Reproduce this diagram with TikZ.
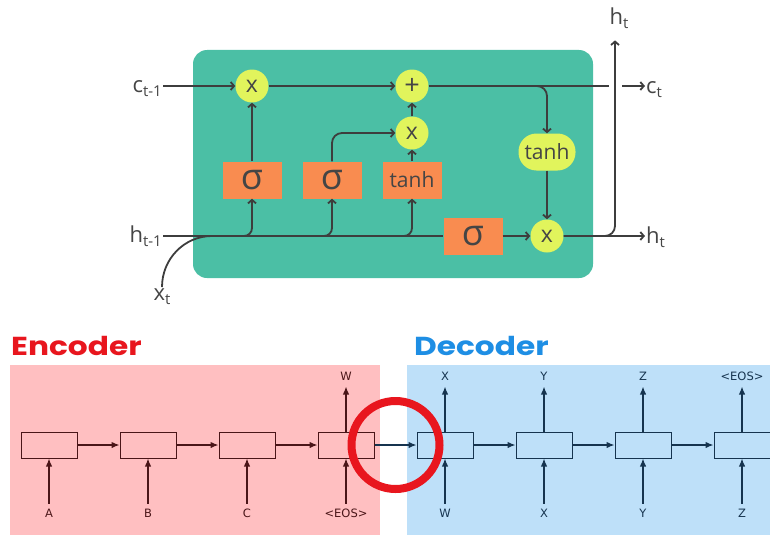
\documentclass[tikz,border=0pt]{standalone}
\usepackage{fontspec}
\setmainfont{Open Sans}
\newfontfamily\labelfont{DejaVu Sans}
\newfontfamily\titlefont{Poppins}[FakeStretch=1.2]
\usepackage{tikz}
\usetikzlibrary{positioning,arrows.meta,calc}
\definecolor{cellteal}{HTML}{4BBFA5}
\definecolor{ptyellow}{HTML}{E1F45C}
\definecolor{gateorange}{HTML}{F98C50}
\definecolor{wire}{HTML}{3D3D3D}
\definecolor{inkgray}{HTML}{454545}
\definecolor{encbg}{HTML}{FFBFC1}
\definecolor{decbg}{HTML}{BEE0F9}
\definecolor{encink}{HTML}{4A1518}
\definecolor{decink}{HTML}{16344F}
\definecolor{encred}{HTML}{E8161E}
\definecolor{decblue}{HTML}{1E8EE4}
\newcommand{\lsub}[1]{\raisebox{-4pt}{\fontsize{15}{15}\selectfont #1}}
\tikzset{
  cellbox/.style={rectangle,rounded corners=14pt,fill=cellteal,
    minimum width=400pt,minimum height=228pt},
  pt/.style={circle,fill=ptyellow,minimum size=33pt,inner sep=0pt,
    text=inkgray,font=\fontsize{23}{23}\selectfont},
  gatebox/.style={rectangle,fill=gateorange,minimum width=59pt,
    minimum height=37pt,inner sep=0pt,text=inkgray,
    font=\fontsize{36}{36}\selectfont},
  actbox/.style={rectangle,rounded corners=18pt,fill=ptyellow,
    minimum width=57pt,minimum height=37pt,inner sep=0pt,text=inkgray,
    font=\fontsize{21}{21}\selectfont},
  io/.style={inner sep=1pt,text=inkgray,font=\fontsize{22}{22}\selectfont},
  line/.style={line width=1.8pt,draw=wire},
  ar/.style={line,-{Straight Barb[length=3.5pt,width=8pt]}},
  ebox/.style={rectangle,draw,line width=1pt,minimum width=56pt,
    minimum height=26pt,inner sep=0pt},
  elbl/.style={inner xsep=1pt,inner ysep=6pt,text height=8pt,text depth=0pt,
    font=\labelfont\fontsize{11.5}{11.5}\selectfont},
  earr/.style={line width=1.3pt,-{Latex[length=8pt,width=6.5pt]}},
  title/.style={anchor=west,inner sep=0pt,
    font=\titlefont\bfseries\fontsize{26}{26}\selectfont},
  ring/.style={circle,draw=encred,line width=8pt,minimum size=88pt,inner sep=0pt},
}
\begin{document}
\begin{tikzpicture}[x=1pt,y=-1pt,node distance=42pt]
  \useasboundingbox (0,0) rectangle (770,535);
  % lstm cell
  \node[cellbox] (cell) at (393,164) {};
  \node[pt] (mulf) at (252,86) {x};
  \node[pt,font=\fontsize{27}{27}\selectfont] (add) at (412,86) {+};
  \node[pt] (muli) at (412,133) {x};
  \node[gatebox] (sigf) at (252,180) {σ};
  \node[gatebox] (sigi) at (332,180) {σ};
  \node[gatebox,font=\fontsize{21}{21}\selectfont] (tanhc) at (412,180) {tanh};
  \node[gatebox] (sigo) at (473,236) {σ};
  \node[actbox] (tanho) at (547,152) {tanh};
  \node[pt] (mulo) at (547,236) {x};
  % inputs and outputs
  \node[io,anchor=base east] (cprev) at (163,92) {c\lsub{t-1}};
  \node[io,anchor=base east] (hprev) at (163,242) {h\lsub{t-1}};
  \node[io,anchor=base] (xt) at (162,300) {x\lsub{t}};
  \node[io,anchor=base west] (ct) at (645,93) {c\lsub{t}};
  \node[io,anchor=base west] (ht) at (645,243) {h\lsub{t}};
  \node[io,anchor=base] (htop) at (619,25) {h\lsub{t}};
  \coordinate (xj) at (212,236);
  \coordinate (bf) at (236,236);
  \coordinate (bi) at (316,236);
  \coordinate (bt) at (396,236);
  \coordinate (cend) at (609,86);
  \coordinate (cgap) at (622,86);
  \coordinate (cbr) at (529,86);
  % cell state
  \draw[ar] (cprev.east |- mulf) -- (mulf);
  \draw[ar] (mulf) -- (add);
  \draw[line] (add) -- (cend);
  \draw[ar] (cgap) -- (ct.west |- cgap);
  \draw[ar,rounded corners=10pt] (cbr) -| (tanho);
  % gates
  \draw[line] (hprev.east |- sigo) -- (sigo);
  \draw[line] (xt.north) to[out=90,in=180] (xj);
  \draw[ar,rounded corners=8pt] (bf) -| (sigf);
  \draw[ar,rounded corners=8pt] (bi) -| (sigi);
  \draw[ar,rounded corners=8pt] (bt) -| (tanhc);
  \draw[ar] (sigf) -- (mulf);
  \draw[ar,rounded corners=10pt] (sigi.north) |- (muli);
  \draw[ar] (tanhc) -- (muli);
  \draw[ar] (muli) -- (add);
  \draw[ar] (tanho) -- (mulo);
  \draw[ar] (sigo) -- (mulo);
  \draw[ar] (mulo) -- (ht.west |- mulo);
  \draw[ar,rounded corners=10pt,shorten >=10pt] (mulo) -| (htop.south -| 615,0);
  % encoder / decoder
  \fill[encbg] (10,365) rectangle (380,535);
  \fill[decbg] (407,365) rectangle (770,535);
  \node[title,text=encred] (enc) at (11,346) {Encoder};
  \node[title,text=decblue] (dec) at (414,346) {Decoder};
  \begin{scope}[draw=encink,text=encink]
    \node[ebox] (e1) at (49,445) {};
    \node[ebox,right=of e1] (e2) {};
    \node[ebox,right=of e2] (e3) {};
    \node[ebox,right=of e3] (e4) {};
    \foreach \i/\j in {1/2,2/3,3/4} \draw[earr] (e\i) -- (e\j);
    \foreach \i/\t in {1/A,2/B,3/C,4/{<EOS>}} {
      \node[elbl,below=45pt of e\i] (ein\i) {\t};
      \draw[earr] (ein\i) -- (e\i);
    }
    \node[elbl,above=45pt of e4] (eout4) {W};
    \draw[earr] (e4) -- (eout4);
  \end{scope}
  \begin{scope}[draw=decink,text=decink]
    \node[ebox,right=of e4] (d1) {};
    \node[ebox,right=of d1] (d2) {};
    \node[ebox,right=of d2] (d3) {};
    \node[ebox,right=of d3] (d4) {};
    \foreach \i/\j in {1/2,2/3,3/4} \draw[earr] (d\i) -- (d\j);
    \foreach \i/\t in {1/W,2/X,3/Y,4/Z} {
      \node[elbl,below=45pt of d\i] (din\i) {\t};
      \draw[earr] (din\i) -- (d\i);
    }
    \foreach \i/\t in {1/X,2/Y,3/Z,4/{<EOS>}} {
      \node[elbl,above=45pt of d\i] (dout\i) {\t};
      \draw[earr] (d\i) -- (dout\i);
    }
    \draw[earr] (e4) -- (d1);
  \end{scope}
  \node[ring] (focus) at ($(e4.east)!0.5!(d1.west)$) {};
\end{tikzpicture}
\end{document}
